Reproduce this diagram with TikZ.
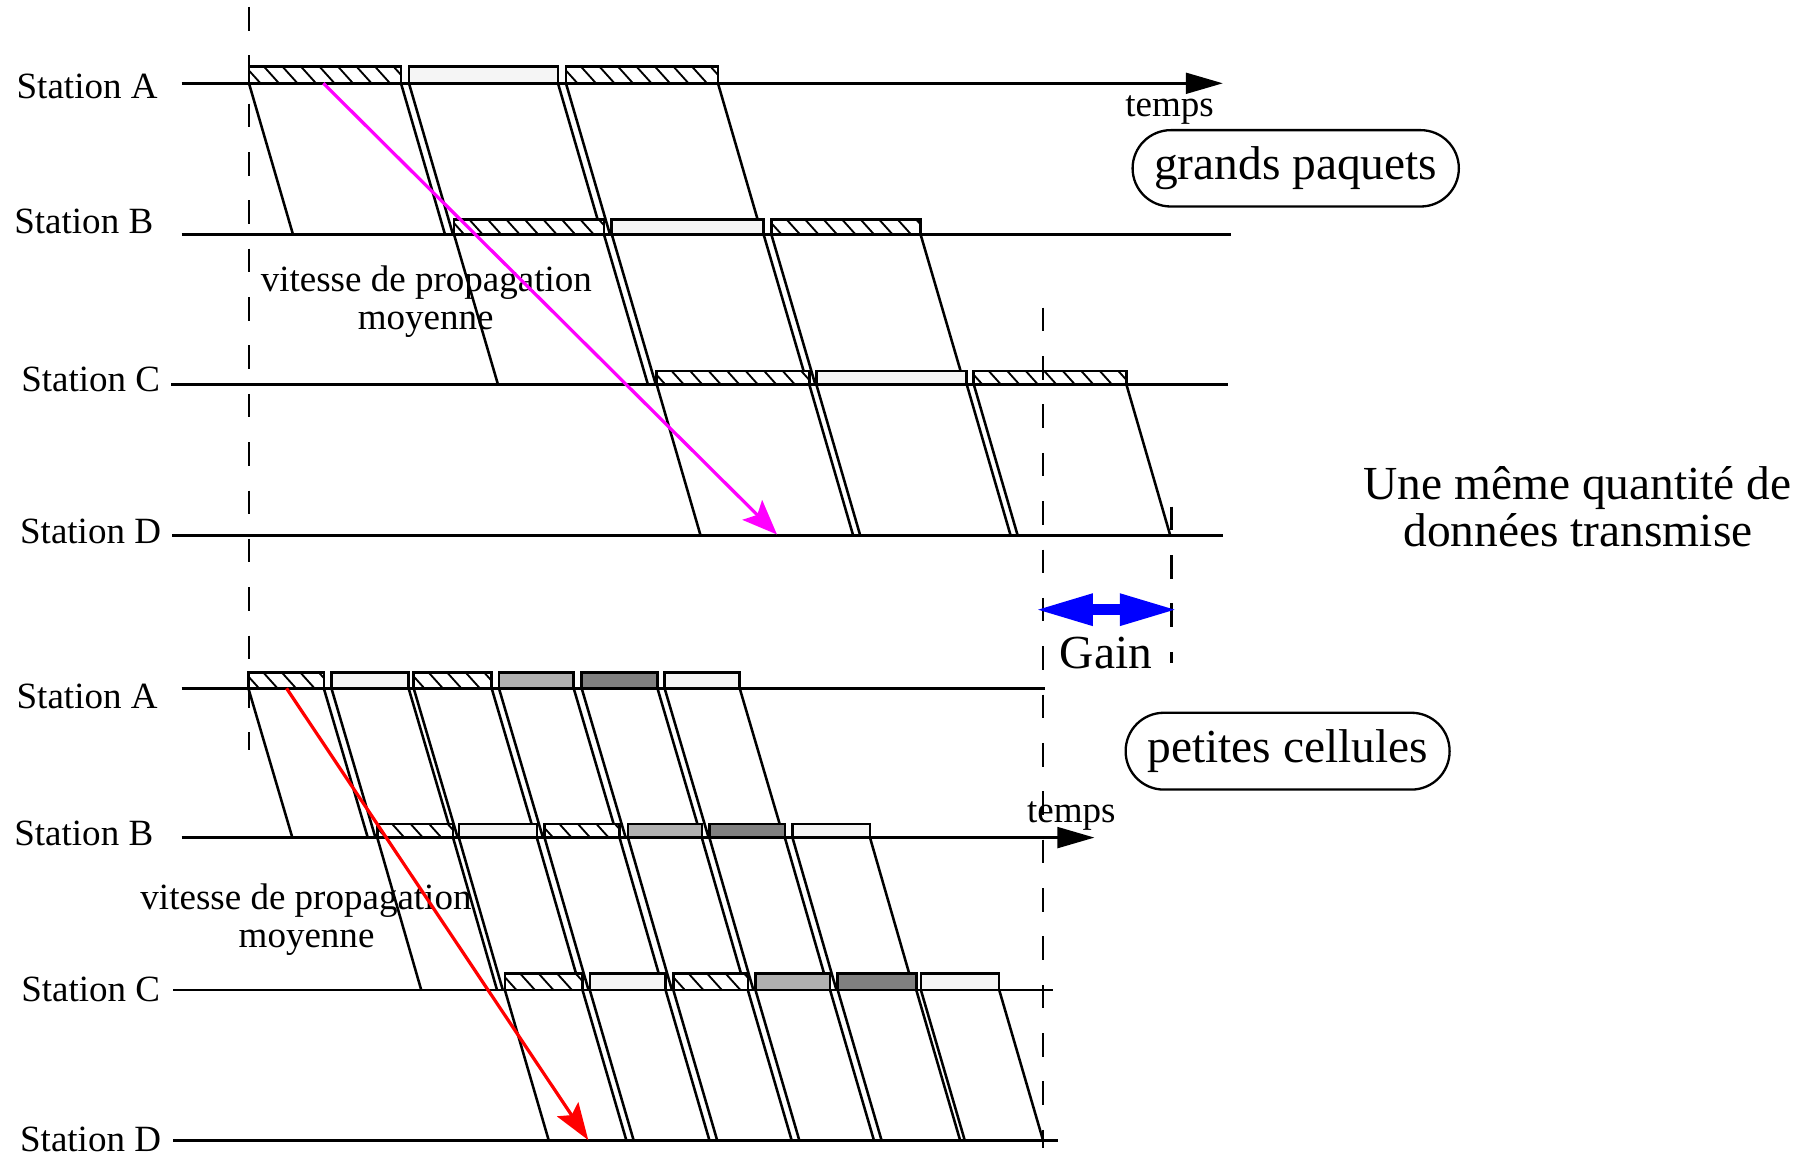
\documentclass[tikz,border=0pt]{standalone}
\usepackage{fontspec}
\setmainfont{Liberation Serif}
\usetikzlibrary{arrows.meta}
\definecolor{pktlight}{HTML}{F5F5F5}
\definecolor{pktmid}{HTML}{B0B0B0}
\definecolor{pktdark}{HTML}{808080}
\definecolor{propmag}{HTML}{FF00FF}
\definecolor{propred}{HTML}{FF0000}
\definecolor{gainblue}{HTML}{0000FF}

% hatched packet: left x, right x, base y, height
\newcommand\hpkt[4]{%
  \fill[white] (#1,{#3-#4}) rectangle (#2,#3);
  \begin{scope}
    \clip (#1,{#3-#4}) rectangle (#2,#3);
    \foreach \k in {0,...,10}{%
      \draw[hatchline] ({#1-3+16*\k},{#3-#4}) -- ({#1-3+16*\k+0.9*#4},#3);}
  \end{scope}
  \draw[boxline] (#1,{#3-#4}) rectangle (#2,#3);}
% filled packet: left x, right x, base y, height, colour
\newcommand\fpkt[5]{\draw[boxline,fill=#5] (#1,{#3-#4}) rectangle (#2,#3);}
% propagation edges of one packet: left x, right x, from y, to y
\newcommand\slants[4]{\draw[slant] (#1,#3) -- ({#1+38},#4) (#2,#3) -- ({#2+38},#4);}

\begin{document}
\begin{tikzpicture}[x=0.5pt,y=-0.5pt,
  wire/.style={line width=1.1pt},
  axis/.style={wire,-{Triangle[length=16pt,width=9pt]}},
  boxline/.style={line width=1.1pt},
  hatchline/.style={line width=0.8pt},
  slant/.style={line width=1.1pt},
  guide/.style={line width=1.0pt,dash pattern=on 10.2pt off 10.7pt},
  lbl/.style={font=\fontsize{16}{19}\selectfont,inner sep=0pt},
  big/.style={font=\fontsize{20.5}{24}\selectfont,inner sep=0pt},
  tag/.style={big,draw,line width=1.0pt,rounded corners=16.5pt},
  propmagarrow/.style={line width=1.4pt,propmag,-{Stealth[length=15pt,width=12pt,inset=3pt]}},
  propredarrow/.style={line width=1.4pt,propred,-{Stealth[length=16pt,width=11pt,inset=3pt]}},
  gainarrow/.style={line width=4.6pt,gainblue,{Triangle[length=25pt,width=12.7pt]}-{Triangle[length=25pt,width=12.7pt]}}]
\useasboundingbox (0,0) rectangle (1568,1000);

% ---------- large packets ----------
\coordinate (A1s) at (157,72);     \coordinate (A1e) at (1057,72);
\coordinate (B1s) at (157,202.5);  \coordinate (B1e) at (1064,202.5);
\coordinate (C1s) at (148,332.2);  \coordinate (C1e) at (1061.7,332.2);
\coordinate (D1s) at (149,463);    \coordinate (D1e) at (1057.3,463);
\draw[axis] (A1s) -- (A1e);
\draw[wire] (B1s) -- (B1e);
\draw[wire] (C1s) -- (C1e);
\draw[wire] (D1s) -- (D1e);

\node[lbl,anchor=base west] (tA1) at (14,85) {Station A};
\node[lbl,anchor=base west] (tB1) at (12,202) {Station B};
\node[lbl,anchor=base west] (tC1) at (18,338.5) {Station C};
\node[lbl,anchor=base west] (tD1) at (17,469.5) {Station D};
\node[lbl,anchor=base] (temps1) at (1011,101) {temps};

\slants{215.2}{346.6}{72}{202.5}
\slants{353.5}{482.3}{72}{202.5}
\slants{489.2}{620.6}{72}{202.5}
\slants{392.4}{522}{202.5}{332.2}
\slants{528.8}{660}{202.5}{332.2}
\slants{666.7}{795.7}{202.5}{332.2}
\slants{567.6}{699.5}{332.2}{463}
\slants{705.6}{835.6}{332.2}{463}
\slants{841.7}{973.6}{332.2}{463}

\hpkt{215.2}{346.6}{72}{14.4}
\fpkt{353.5}{482.3}{72}{14.4}{pktlight}
\hpkt{489.2}{620.6}{72}{14.4}
\hpkt{392.4}{522}{202.5}{13}
\fpkt{528.8}{660}{202.5}{13}{pktlight}
\hpkt{666.7}{795.7}{202.5}{13}
\hpkt{567.6}{699.5}{332.2}{11.5}
\fpkt{705.6}{835.6}{332.2}{11.5}{pktlight}
\hpkt{841.7}{973.6}{332.2}{11.5}

\node[lbl,anchor=base] (v1a) at (368.5,252) {vitesse de propagation};
\node[lbl,anchor=base] (v1b) at (368,285) {moyenne};

\node[tag,minimum width=141pt,minimum height=33pt] (gp) at (1120,145.5) {grands paquets};

% ---------- small cells ----------
\coordinate (A2s) at (157,595);    \coordinate (A2e) at (903,595);
\coordinate (B2s) at (157,724);    \coordinate (B2e) at (946,724);
\coordinate (C2s) at (149.8,855.7);\coordinate (C2e) at (910,855.7);
\coordinate (D2s) at (149.8,986);  \coordinate (D2e) at (914.5,986);
\draw[wire] (A2s) -- (A2e);
\draw[axis] (B2s) -- (B2e);
\draw[wire] (C2s) -- (C2e);
\draw[wire] (D2s) -- (D2e);

\node[lbl,anchor=base west] (tA2) at (14,612.5) {Station A};
\node[lbl,anchor=base west] (tB2) at (12,730.5) {Station B};
\node[lbl,anchor=base west] (tC2) at (18,865.5) {Station C};
\node[lbl,anchor=base west] (tD2) at (17,995) {Station D};
\node[lbl,anchor=base] (temps2) at (926,711) {temps};

\foreach \l/\r in {214.7/279.9,286.5/353.2,357.6/425,431.3/495.9,502.8/568.3,574.5/639.4}
  {\slants{\l}{\r}{595}{724}}
\foreach \l/\r in {326.1/391.6,396.6/464,470.7/535.5,542.8/606.6,613.2/678.4,685/752}
  {\slants{\l}{\r}{724}{855.7}}
\foreach \l/\r in {436.4/503.5,509.8/575.3,582/646.4,653/717.5,724.1/792,796/863.7}
  {\slants{\l}{\r}{855.7}{986}}

\hpkt{214.7}{279.9}{595}{13.6}
\fpkt{286.5}{353.2}{595}{13.6}{pktlight}
\hpkt{357.6}{425}{595}{13.6}
\fpkt{431.3}{495.9}{595}{13.6}{pktmid}
\fpkt{502.8}{568.3}{595}{13.6}{pktdark}
\fpkt{574.5}{639.4}{595}{13.6}{pktlight}

\hpkt{326.1}{391.6}{724}{11.6}
\fpkt{396.6}{464}{724}{11.6}{pktlight}
\hpkt{470.7}{535.5}{724}{11.6}
\fpkt{542.8}{606.6}{724}{11.6}{pktmid}
\fpkt{613.2}{678.4}{724}{11.6}{pktdark}
\fpkt{685}{752}{724}{11.6}{pktlight}

\hpkt{436.4}{503.5}{855.7}{14.4}
\fpkt{509.8}{575.3}{855.7}{14.4}{pktlight}
\hpkt{582}{646.4}{855.7}{14.4}
\fpkt{653}{717.5}{855.7}{14.4}{pktmid}
\fpkt{724.1}{792}{855.7}{14.4}{pktdark}
\fpkt{796}{863.7}{855.7}{14.4}{pktlight}

\node[lbl,anchor=base] (v2a) at (264.5,786) {vitesse de propagation};
\node[lbl,anchor=base] (v2b) at (265,819) {moyenne};

\node[tag,minimum width=140pt,minimum height=33.2pt] (pc) at (1113,649.3) {petites cellules};

% ---------- time references and gain ----------
\coordinate (g1t) at (215.2,6);     \coordinate (g1b) at (215.2,648);
\coordinate (g2t) at (901.8,266);   \coordinate (g2b) at (901.8,992);
\coordinate (g3t) at (1012.6,438);  \coordinate (g3b) at (1012.6,573);
\draw[guide] (g1t) -- (g1b);
\draw[guide] (g2t) -- (g2b);
\draw[guide] (g3t) -- (g3b);

\coordinate (gL) at (894.6,527);  \coordinate (gR) at (1018,527);
\draw[gainarrow] (gL) -- (gR);
\node[big,anchor=base] (gain) at (956,577.5) {Gain};

\node[big,anchor=base] (q1) at (1363.5,432) {Une même quantité de};
\node[big,anchor=base] (q2) at (1364,472.5) {données transmise};

% ---------- mean propagation speed ----------
\coordinate (m1) at (279.5,72);   \coordinate (m2) at (671.6,462);
\draw[propmagarrow] (m1) -- (m2);
\coordinate (r1) at (247.7,595);  \coordinate (r2) at (508.5,985.5);
\draw[propredarrow] (r1) -- (r2);
\end{tikzpicture}
\end{document}
